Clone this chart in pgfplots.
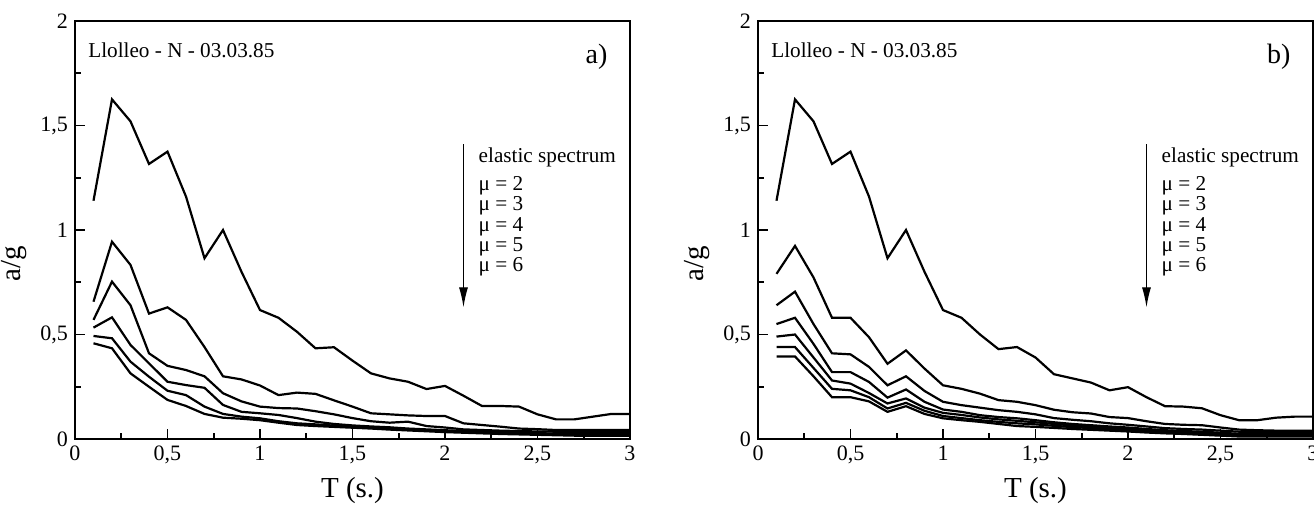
\documentclass[border=0pt]{standalone}
\usepackage{fontspec}
\setmainfont{Liberation Serif}
\usepackage{pgfplots}
\pgfplotsset{compat=1.18}
\usepackage{pgfplotstable}
\usetikzlibrary{arrows.meta}

% left panel: elastic spectrum and mu = 2..6
\pgfplotstableread{
T   e     m2    m3    m4    m5    m6
0.1 1.14  0.657 0.57  0.533 0.493 0.458
0.2 1.625 0.944 0.753 0.582 0.482 0.434
0.3 1.52  0.833 0.64  0.45  0.37  0.314
0.4 1.316 0.60  0.41  0.362 0.298 0.25
0.5 1.375 0.63  0.35  0.274 0.231 0.187
0.6 1.16  0.57  0.33  0.258 0.21  0.158
0.7 0.865 0.44  0.30  0.245 0.155 0.12
0.8 1.0   0.30  0.219 0.163 0.12  0.102
0.9 0.80  0.285 0.18  0.13  0.107 0.097
1.0 0.617 0.256 0.155 0.123 0.099 0.09
1.1 0.58  0.21  0.148 0.115 0.085 0.078
1.2 0.513 0.222 0.146 0.10  0.075 0.067
1.3 0.434 0.216 0.133 0.083 0.07  0.062
1.4 0.439 0.185 0.118 0.072 0.064 0.058
1.5 0.375 0.155 0.10  0.065 0.06  0.054
1.6 0.314 0.123 0.085 0.06  0.055 0.05
1.7 0.29  0.118 0.078 0.056 0.05  0.045
1.8 0.274 0.113 0.083 0.05  0.046 0.041
1.9 0.239 0.11  0.062 0.046 0.042 0.037
2.0 0.254 0.11  0.055 0.042 0.038 0.033
2.1 0.207 0.075 0.046 0.038 0.034 0.03
2.2 0.158 0.067 0.043 0.035 0.031 0.027
2.3 0.158 0.059 0.04  0.032 0.028 0.024
2.4 0.155 0.05  0.038 0.03  0.026 0.022
2.5 0.118 0.047 0.036 0.028 0.024 0.02
2.6 0.094 0.043 0.035 0.026 0.022 0.018
2.7 0.094 0.043 0.035 0.025 0.02  0.016
2.8 0.107 0.043 0.035 0.025 0.02  0.016
2.9 0.12  0.043 0.035 0.025 0.02  0.016
3.0 0.12  0.043 0.035 0.025 0.02  0.016
}\lefttab

% right panel
\pgfplotstableread{
T   e     r2    r3    r4    r5    r6    r7
0.1 1.14  0.79  0.64  0.55  0.49  0.44  0.395
0.2 1.625 0.924 0.705 0.58  0.50  0.44  0.395
0.3 1.52  0.773 0.55  0.455 0.39  0.34  0.30
0.4 1.316 0.58  0.41  0.32  0.28  0.24  0.20
0.5 1.375 0.58  0.405 0.32  0.265 0.233 0.20
0.6 1.16  0.487 0.345 0.273 0.22  0.20  0.18
0.7 0.865 0.36  0.257 0.198 0.17  0.146 0.13
0.8 1.0   0.424 0.30  0.237 0.194 0.173 0.157
0.9 0.80  0.337 0.23  0.178 0.15  0.135 0.12
1.0 0.617 0.257 0.178 0.141 0.125 0.11  0.099
1.1 0.58  0.24  0.162 0.13  0.115 0.10  0.09
1.2 0.50  0.217 0.15  0.114 0.103 0.09  0.082
1.3 0.43  0.186 0.138 0.105 0.094 0.082 0.072
1.4 0.44  0.178 0.13  0.099 0.087 0.075 0.062
1.5 0.39  0.162 0.118 0.09  0.08  0.07  0.058
1.6 0.31  0.14  0.10  0.08  0.072 0.063 0.053
1.7 0.29  0.128 0.092 0.072 0.065 0.057 0.048
1.8 0.27  0.122 0.085 0.066 0.06  0.052 0.044
1.9 0.233 0.105 0.075 0.06  0.054 0.047 0.04
2.0 0.248 0.10  0.068 0.055 0.05  0.043 0.036
2.1 0.20  0.085 0.06  0.048 0.043 0.037 0.031
2.2 0.157 0.072 0.052 0.042 0.037 0.032 0.027
2.3 0.155 0.068 0.048 0.038 0.033 0.028 0.024
2.4 0.147 0.066 0.045 0.035 0.03  0.025 0.02
2.5 0.114 0.055 0.04  0.03  0.025 0.02  0.016
2.6 0.09  0.045 0.035 0.025 0.02  0.015 0.012
2.7 0.09  0.042 0.033 0.025 0.02  0.015 0.012
2.8 0.102 0.04  0.032 0.025 0.02  0.016 0.012
2.9 0.107 0.04  0.032 0.025 0.02  0.016 0.012
3.0 0.107 0.04  0.032 0.025 0.02  0.016 0.012
}\righttab

\pgfplotsset{
  spec/.style={
    scale only axis, width=277.5pt, height=209pt,
    xmin=0, xmax=3, ymin=0, ymax=2,
    xtick={0,0.5,1,1.5,2,2.5,3}, ytick={0,0.5,1,1.5,2},
    minor x tick num=1, minor y tick num=1,
    tick align=inside, tick pos=left,
    major tick length=5pt, minor tick length=3pt,
    axis line style={line width=1.1pt},
    every tick/.style={black, line width=0.8pt},
    /pgf/number format/use comma,
    /pgf/number format/assume math mode=true,
    tick label style={font=\fontsize{11}{13}\selectfont},
    xlabel={T (s.)}, ylabel={a/g},
    label style={font=\fontsize{14.5}{16}\selectfont},
    ylabel style={at={(ticklabel cs:0.42)}},
    cycle list={{black, mark=none}},
    every axis plot/.append style={line width=1.1pt},
  },
}

\newcommand\specnotes[1]{%
  \node[anchor=west, inner sep=0, font=\fontsize{10.6}{12}\selectfont] at (axis cs:0.07,1.86) {Llolleo - N - 03.03.85};
  \node[anchor=east, inner sep=0, font=\fontsize{14}{16}\selectfont] at (axis cs:2.88,1.83) {#1};
  \draw[-{Latex[length=10pt,width=4.5pt]}, line width=0.6pt] (axis cs:2.1,1.41) -- (axis cs:2.1,0.63);
  \node[anchor=base west, inner sep=0, font=\fontsize{10.6}{12}\selectfont] at (axis cs:2.18,1.321) {elastic spectrum};
  \node[anchor=base west, inner sep=0, font=\fontsize{10.6}{12}\selectfont] at (axis cs:2.18,1.187) {μ = 2};
  \node[anchor=base west, inner sep=0, font=\fontsize{10.6}{12}\selectfont] at (axis cs:2.18,1.091) {μ = 3};
  \node[anchor=base west, inner sep=0, font=\fontsize{10.6}{12}\selectfont] at (axis cs:2.18,0.995) {μ = 4};
  \node[anchor=base west, inner sep=0, font=\fontsize{10.6}{12}\selectfont] at (axis cs:2.18,0.899) {μ = 5};
  \node[anchor=base west, inner sep=0, font=\fontsize{10.6}{12}\selectfont] at (axis cs:2.18,0.803) {μ = 6};
}

\begin{document}
\begin{tikzpicture}
\path[use as bounding box] (-37.5pt,-35.5pt) rectangle (619.5pt,219.5pt);

\begin{axis}[spec, at={(0,0)}]
  \addplot table[x=T, y=e]  {\lefttab};
  \addplot table[x=T, y=m2] {\lefttab};
  \addplot table[x=T, y=m3] {\lefttab};
  \addplot table[x=T, y=m4] {\lefttab};
  \addplot table[x=T, y=m5] {\lefttab};
  \addplot table[x=T, y=m6] {\lefttab};
  \specnotes{a)}
\end{axis}

\begin{axis}[spec, at={(341.5pt,0)}]
  \addplot table[x=T, y=e]  {\righttab};
  \addplot table[x=T, y=r2] {\righttab};
  \addplot table[x=T, y=r3] {\righttab};
  \addplot table[x=T, y=r4] {\righttab};
  \addplot table[x=T, y=r5] {\righttab};
  \addplot table[x=T, y=r6] {\righttab};
  \addplot table[x=T, y=r7] {\righttab};
  \specnotes{b)}
\end{axis}
\end{tikzpicture}
\end{document}
